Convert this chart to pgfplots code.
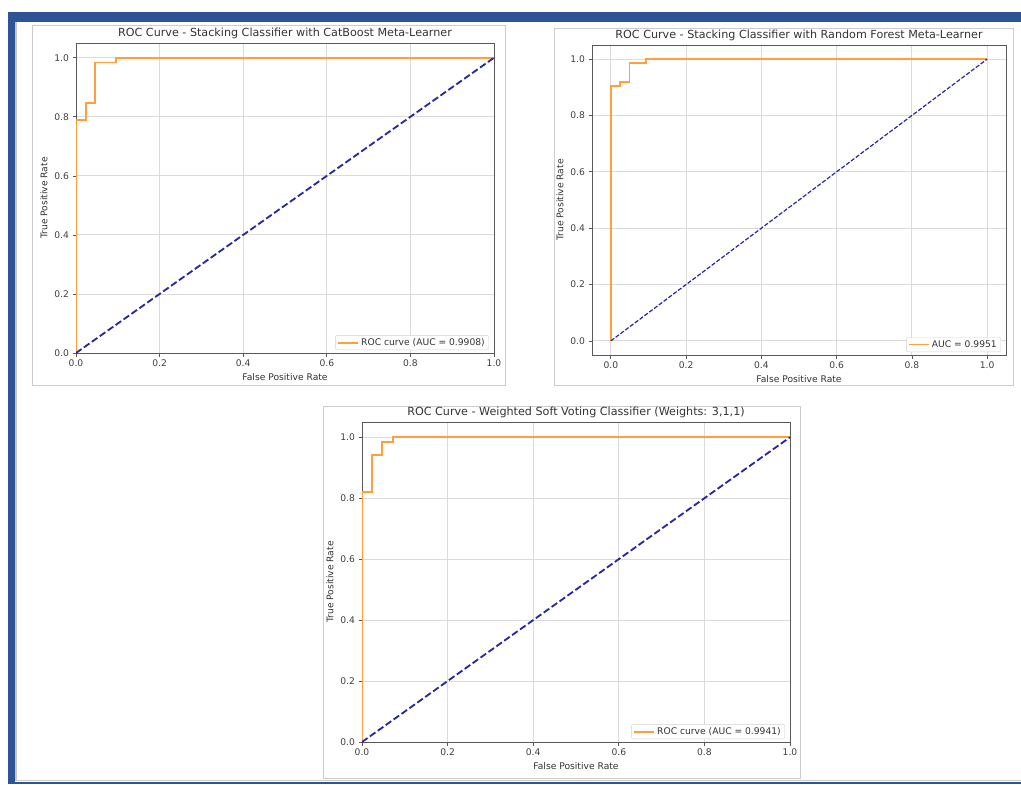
\documentclass[border=0pt]{standalone}
\usepackage{pgfplots}
\pgfplotsset{compat=1.18}
\usepackage{fontspec}
\setmainfont{DejaVu Sans}
\definecolor{frameblue}{RGB}{46,84,150}
\definecolor{rocorange}{RGB}{255,160,60}
\definecolor{rocnavy}{RGB}{40,40,160}
\newcommand\tickfont{\fontsize{9.2}{11}\selectfont}
\newcommand\titlefont{\fontsize{11.2}{13}\selectfont}
\pgfplotsset{
  roc/.style={
    scale only axis, anchor=south west,
    axis line style={black!65, line width=0.8bp},
    tick align=outside, major tick length=3.5bp,
    xtick pos=bottom, ytick pos=left,
    tick style={black!65, line width=0.7bp},
    xtick={0,0.2,0.4,0.6,0.8,1}, ytick={0,0.2,0.4,0.6,0.8,1},
    grid=major, grid style={gray!28, line width=0.9bp},
    /pgf/number format/assume math mode=true,
    x tick label style={/pgf/number format/.cd, fixed, fixed zerofill, precision=1},
    y tick label style={/pgf/number format/.cd, fixed, fixed zerofill, precision=1},
    ticklabel style={font=\tickfont, text=black!75},
    label style={font=\tickfont, text=black!80},
    title style={font=\titlefont, text=black!80, yshift=-5.5bp},
    xlabel={False Positive Rate}, ylabel={True Positive Rate},
    legend cell align=left,
    legend image code/.code={\draw[##1] (0bp,0bp) -- (20bp,0bp);},
    legend style={font=\tickfont, text=black!80, draw=gray!35, rounded corners=2bp,
      at={(1,0)}, anchor=south east, xshift=-5bp, yshift=3bp,
      inner xsep=2bp, inner ysep=1bp, fill=white},
  }
}
\begin{document}
\begin{tikzpicture}
\useasboundingbox (0,0) rectangle (1021bp,-785bp);
\fill[white] (0,0) rectangle (1021bp,-785bp);
% frame
\fill[frameblue] (8bp,-12bp) rectangle (1021bp,-22bp);
\fill[frameblue] (8bp,-12bp) rectangle (15bp,-784bp);
\fill[frameblue] (15bp,-781.5bp) rectangle (1021bp,-784bp);
\draw[gray!45, line width=1.5bp] (16.2bp,-22bp) -- (16.2bp,-781bp);
\draw[gray!40, line width=0.6bp] (17bp,-780.5bp) -- (1021bp,-780.5bp);
% figure boxes
\draw[gray!40, line width=0.8bp] (32bp,-25bp) rectangle (505bp,-385bp);
\draw[gray!40, line width=0.8bp] (554bp,-28bp) rectangle (1013bp,-385bp);
\draw[gray!40, line width=0.8bp] (323bp,-406bp) rectangle (800bp,-778bp);

% Plot 1
\begin{axis}[roc, at={(76bp,-353bp)}, width=418bp, height=310bp,
  xmin=0, xmax=1, ymin=0, ymax=1.05,
  title={ROC Curve - Stacking Classifier with CatBoost Meta-Learner}]
\addplot[rocorange, line width=1.84bp] coordinates {
(0,0) (0,0.79) (0.024,0.79) (0.024,0.848) (0.046,0.848) (0.046,0.984) (0.096,0.984) (0.096,1.0) (1,1)};
\addlegendentry{ROC curve (AUC = 0.9908)}
\addplot[rocnavy, line width=1.84bp, dash pattern=on 6.8bp off 2.9bp, forget plot] coordinates {(0,0) (1,1)};
\end{axis}

% Plot 2
\begin{axis}[roc, at={(592bp,-355bp)}, width=414bp, height=310bp,
  xmin=-0.05, xmax=1.05, ymin=-0.05, ymax=1.05,
  title={ROC Curve - Stacking Classifier with Random Forest Meta-Learner}]
\addplot[rocorange, line width=1.5bp] coordinates {
(0,0) (0,0.904) (0.024,0.904) (0.024,0.918) (0.05,0.918) (0.05,0.986) (0.093,0.986) (0.093,1.0) (1,1)};
\addlegendentry{AUC = 0.9951}
\addplot[rocnavy, line width=1.2bp, dash pattern=on 4.2bp off 1.8bp, forget plot] coordinates {(0,0) (1,1)};
\end{axis}

% Plot 3
\begin{axis}[roc, at={(362bp,-742bp)}, width=428bp, height=320bp,
  xmin=0, xmax=1, ymin=0, ymax=1.05,
  title={ROC Curve - Weighted Soft Voting Classifier (Weights: 3,1,1)}]
\addplot[rocorange, line width=1.84bp] coordinates {
(0,0) (0,0.82) (0.023,0.82) (0.023,0.941) (0.047,0.941) (0.047,0.984) (0.072,0.984) (0.072,1.0) (1,1)};
\addlegendentry{ROC curve (AUC = 0.9941)}
\addplot[rocnavy, line width=1.84bp, dash pattern=on 6.8bp off 2.9bp, forget plot] coordinates {(0,0) (1,1)};
\end{axis}
\end{tikzpicture}
\end{document}
